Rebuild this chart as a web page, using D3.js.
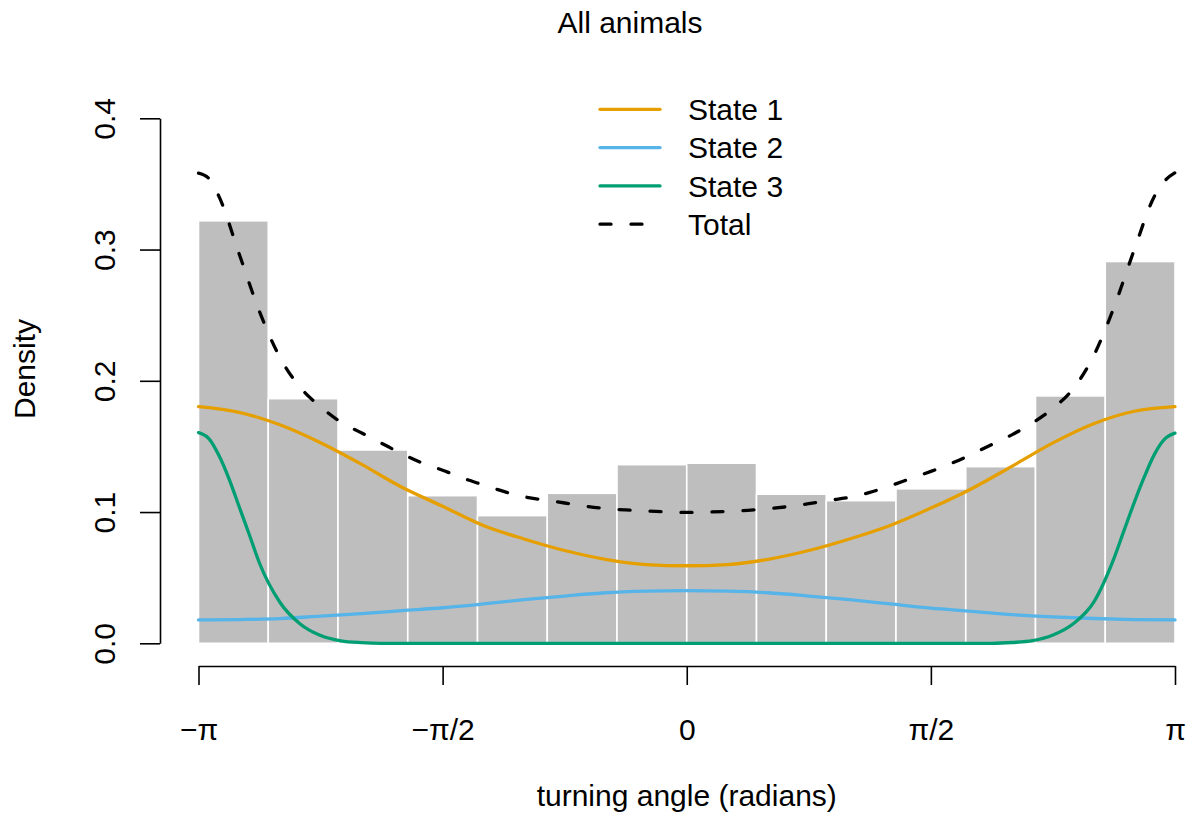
<!DOCTYPE html>
<html>
<head>
<meta charset="utf-8">
<script src="https://cdn.jsdelivr.net/npm/d3@7"></script>
<style>
  html, body { margin: 0; padding: 0; background: #fff; }
  svg { display: block; }
  text { font-family: "Liberation Sans", Arial, Helvetica, sans-serif; fill: #000; }
</style>
</head>
<body>
<svg id="chart" width="1193" height="826"></svg>
<script>
// ---------------- data ----------------
const PI = Math.PI;
const title = "All animals";
const xLabel = "turning angle (radians)";
const yLabel = "Density";

// histogram densities, 14 equal bins from -pi to pi
const histDensity = [0.3219, 0.1864, 0.1473, 0.1125, 0.0973, 0.1143, 0.1361,
                     0.1372, 0.1136, 0.1087, 0.1177, 0.1346, 0.1885, 0.2909];

// angles (in units of pi/12) for state 1 & 2 curves
const anglesCoarse = [-12,-11,-10,-9,-8,-7,-6,-5,-4,-3,-2,-1,0,1,2,3,4,5,6,7,8,9,10,11,12];
const state1 = [0.1803,0.1760,0.1665,0.1528,0.1365,0.1189,0.1044,0.0898,0.0795,0.0707,0.0640,0.0600,0.0591,
                0.0600,0.0640,0.0707,0.0795,0.0898,0.1030,0.1178,0.1350,0.1527,0.1673,0.1768,0.1803];
const state2 = [0.0178,0.0181,0.0188,0.0207,0.0226,0.0249,0.0271,0.0300,0.0332,0.0360,0.0385,0.0397,0.0401,
                0.0397,0.0385,0.0360,0.0332,0.0300,0.0268,0.0244,0.0218,0.0201,0.0189,0.0181,0.0178];

// angles (in units of pi/48) for state 3 curve
const anglesState3 = [-48,-47,-46,-45,-44,-43,-42,-40,-38,-36,-34,-32,-30,-20,-10,0,
                      10,20,30,32,34,36,38,40,42,43,44,45,46,47,48];
const state3 = [0.1605,0.1561,0.1432,0.1253,0.1040,0.0827,0.0610,0.0313,0.0147,0.0059,0.0019,0.0005,0,0,0,0,
                0,0,0,0.0006,0.0020,0.0063,0.0149,0.0312,0.0647,0.0862,0.1074,0.1271,0.1443,0.1557,0.1601];

// angles (in units of pi/48) for total curve
const anglesTotal = [-48,-47,-46,-44,-42,-40,-38,-36,-34,-32,-30,-28,-26,-24,-22,-20,-18,-16,-14,-12,-10,-8,-6,-4,-2,0,
                     2,4,6,8,10,12,14,16,18,20,22,24,26,28,30,32,34,36,38,40,42,44,46,47,48];
const total = [0.3582,0.3543,0.3407,0.2966,0.2526,0.2179,0.1950,0.1802,0.1685,0.1604,0.1524,0.1444,0.1374,0.1319,
               0.1258,0.1207,0.1157,0.1117,0.1092,0.1069,0.1045,0.1027,0.1016,0.1008,0.1001,0.0997,
               0.1000,0.1005,0.1013,0.1025,0.1042,0.1064,0.1089,0.1112,0.1150,0.1200,0.1255,0.1310,
               0.1370,0.1440,0.1515,0.1590,0.1680,0.1790,0.1940,0.2190,0.2560,0.3000,0.3410,0.3524,0.3585];

const yTicks = [0, 0.1, 0.2, 0.3, 0.4];
const yTickLabels = ["0.0", "0.1", "0.2", "0.3", "0.4"];
const xTicks = [-PI, -PI/2, 0, PI/2, PI];
const xTickLabels = ["\u2212\u03C0", "\u2212\u03C0/2", "0", "\u03C0/2", "\u03C0"];

const legendNames = ["State 1", "State 2", "State 3", "Total"];
const legendColors = ["#E69F00", "#56B4E9", "#009E73", "#000000"];
const legendDashed = [false, false, false, true];

// ---------------- drawing ----------------
const svg = d3.select("#chart");
const x = d3.scaleLinear().domain([-PI, PI]).range([198.5, 1175]);
const y = d3.scaleLinear().domain([0, 0.4]).range([643.3, 118.3]);

// histogram bars
const nb = histDensity.length;
const bw = 2 * PI / nb;
svg.append("g").selectAll("rect")
  .data(histDensity)
  .join("rect")
  .attr("x", (d, i) => x(-PI + i * bw))
  .attr("width", (d, i) => x(-PI + (i + 1) * bw) - x(-PI + i * bw))
  .attr("y", d => y(d))
  .attr("height", d => y(0) - y(d))
  .attr("fill", "#BEBEBE")
  .attr("stroke", "#ffffff")
  .attr("stroke-width", 1.6);

// curves
const line = d3.line().x(d => x(d[0])).y(d => y(d[1])).curve(d3.curveMonotoneX);
const series = [
  { pts: anglesCoarse.map((a, i) => [a * PI / 12, state1[i]]), color: legendColors[0], dash: null },
  { pts: anglesCoarse.map((a, i) => [a * PI / 12, state2[i]]), color: legendColors[1], dash: null },
  { pts: anglesState3.map((a, i) => [a * PI / 48, state3[i]]), color: legendColors[2], dash: null },
  { pts: anglesTotal.map((a, i) => [a * PI / 48, total[i]]), color: legendColors[3], dash: "11,20" }
];
series.forEach(s => {
  svg.append("path")
    .attr("d", line(s.pts))
    .attr("fill", "none")
    .attr("stroke", s.color)
    .attr("stroke-width", 3.3)
    .attr("stroke-linecap", "round")
    .attr("stroke-linejoin", "round")
    .attr("stroke-dasharray", s.dash);
});

// y axis
const yAxis = d3.axisLeft(y).tickValues(yTicks).tickFormat((d, i) => yTickLabels[i])
  .tickSize(20).tickSizeOuter(0);
const gy = svg.append("g").attr("transform", "translate(160,0)").call(yAxis);
gy.select(".domain").attr("stroke", "#000").attr("stroke-width", 1.6);
gy.selectAll(".tick line").attr("stroke", "#000").attr("stroke-width", 1.6);
gy.selectAll(".tick text")
  .attr("x", null).attr("dy", null)
  .attr("font-size", 30)
  .attr("text-anchor", "middle")
  .attr("transform", "translate(-45,0) rotate(-90)");

// x axis
const xAxis = d3.axisBottom(x).tickValues(xTicks).tickFormat((d, i) => xTickLabels[i])
  .tickSize(19).tickSizeOuter(0);
const gx = svg.append("g").attr("transform", "translate(0,666)").call(xAxis);
gx.select(".domain").attr("stroke", "#000").attr("stroke-width", 1.6);
gx.selectAll(".tick line").attr("stroke", "#000").attr("stroke-width", 1.6);
gx.selectAll(".tick text")
  .attr("y", 74).attr("dy", null)
  .attr("font-size", 30);
svg.selectAll(".tick text").attr("font-family", "'Liberation Sans', Arial, sans-serif").attr("fill", "#000");

// titles
svg.append("text").attr("x", 630).attr("y", 33).attr("text-anchor", "middle")
  .attr("font-size", 30).text(title);
svg.append("text").attr("x", x(0)).attr("y", 806).attr("text-anchor", "middle")
  .attr("font-size", 30).text(xLabel);
svg.append("text").attr("transform", "translate(35,369) rotate(-90)").attr("text-anchor", "middle")
  .attr("font-size", 30).text(yLabel);

// legend
const lg = svg.append("g");
legendNames.forEach((name, i) => {
  const ly = 109.3 + i * 38.3;
  lg.append("line").attr("x1", 600).attr("x2", 660).attr("y1", ly).attr("y2", ly)
    .attr("stroke", legendColors[i]).attr("stroke-width", 3.3)
    .attr("stroke-linecap", "round")
    .attr("stroke-dasharray", legendDashed[i] ? "11,20" : null);
  lg.append("text").attr("x", 688).attr("y", ly + 10.8).attr("font-size", 30).text(name);
});
</script>
</body>
</html>
